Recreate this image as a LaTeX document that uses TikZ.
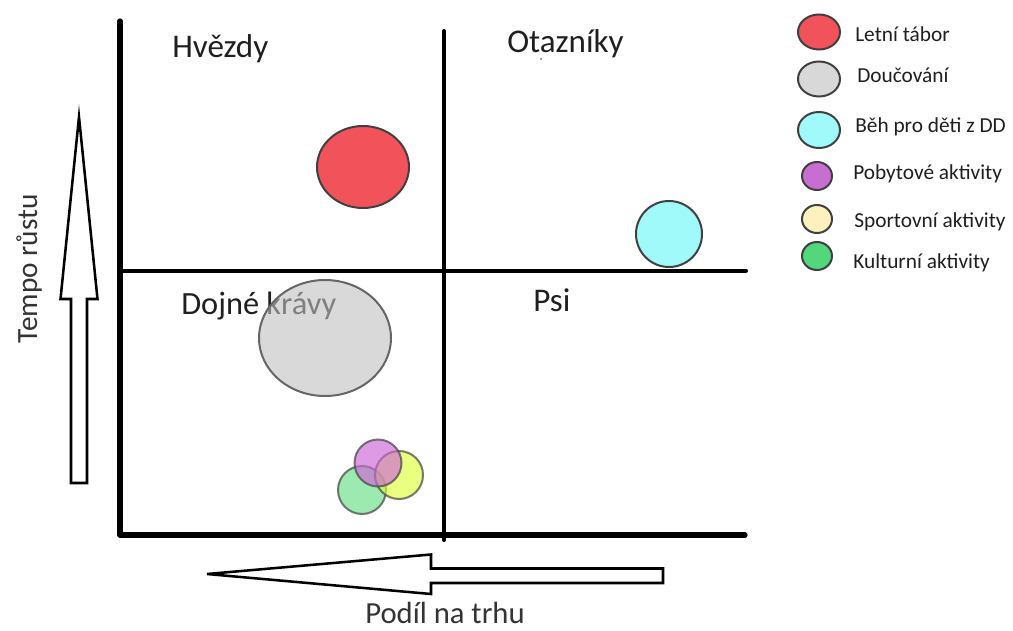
\documentclass[tikz,border=0pt]{standalone}
\usepackage{fontspec}
\setmainfont{Carlito}
\definecolor{bubblered}{RGB}{242,82,90}
\definecolor{bubblecyan}{RGB}{160,250,250}
\definecolor{bubblegray}{RGB}{216,216,216}
\definecolor{legpurple}{RGB}{200,110,210}
\definecolor{legyellow}{RGB}{255,241,190}
\definecolor{leggreen}{RGB}{82,215,122}
\definecolor{mixpurple}{RGB}{205,100,215}
\definecolor{mixyellow}{RGB}{222,255,60}
\definecolor{mixgreen}{RGB}{105,222,135}
\begin{document}
\begin{tikzpicture}[x=0.75pt,y=-0.75pt,
  axis/.style={line width=3.9pt,line cap=round,line join=round},
  divider/.style={line width=3pt,line cap=round},
  bubble/.style={draw=black!75,line width=1.5pt},
  softbubble/.style={draw=black!70,line width=1.5pt,fill opacity=0.65,draw opacity=0.75},
  blockarrow/.style={draw=black,line width=1.9pt,fill=white,line join=miter},
  quad/.style={font=\fontsize{24.8}{29}\selectfont,text=black!88,inner sep=0pt,anchor=base west},
  legend/.style={font=\fontsize{16}{19}\selectfont,text=black!88,inner sep=0pt,anchor=base west},
  axislabel/.style={font=\fontsize{23}{27}\selectfont,text=black!80,inner sep=0pt,anchor=base}]
\useasboundingbox (0,0) rectangle (1013,631);

% quadrant names
\node[quad] (stars)    at (172,58)  {Hvězdy};
\node[quad] (question) at (507,53)  {Otazníky};
\node[quad,font=\fontsize{24.3}{29}\selectfont] (cows) at (181,314) {Dojné krávy};
\node[quad] (dogs)     at (533,311) {Psi};
\fill[black!60] (541,59) circle [radius=1];

% axes and quadrant dividers
\draw[axis] (120,21) -- (120,535) -- (745,535);
\draw[divider] (444,31) -- (444,540);
\draw[divider] (120,270.5) -- (746,270.5);

% activity bubbles
\draw[bubble,fill=bubblered] (363,167) ellipse [x radius=46, y radius=41];
\draw[bubble,draw=black!60,fill=black!25,fill opacity=0.6] (325,338) ellipse [x radius=66, y radius=58];
\draw[bubble,fill=bubblecyan] (669,234) circle [radius=33];
\draw[softbubble,fill=mixgreen]  (362,490) circle [radius=24];
\draw[softbubble,fill=mixyellow] (399,475) circle [radius=24];
\draw[softbubble,fill=mixpurple] (378,463) circle [radius=23.5];

% growth rate arrow
\draw[blockarrow] (79,117) -- (97.5,299) -- (87,299) -- (87,483) -- (71,483)
  -- (71,299) -- (60.5,299) -- cycle;
\node[axislabel,font=\fontsize{22}{26}\selectfont,rotate=90] (growth) at (37,269) {Tempo růstu};

% market share arrow
\draw[blockarrow] (207,574) -- (431,554.5) -- (431,568.5) -- (663,568.5)
  -- (663,583) -- (431,583) -- (431,594) -- cycle;
\node[axislabel] (share) at (445,623) {Podíl na trhu};

% legend
\draw[bubble,fill=bubblered]  (819,32)  ellipse [x radius=21, y radius=17.5];
\draw[bubble,fill=bubblegray] (819,79)  ellipse [x radius=21, y radius=17.5];
\draw[bubble,fill=bubblecyan] (819,130) ellipse [x radius=21, y radius=18];
\draw[bubble,fill=legpurple]  (817,176) ellipse [x radius=15, y radius=14];
\draw[bubble,fill=legyellow]  (817,219) ellipse [x radius=15, y radius=14];
\draw[bubble,fill=leggreen]   (817,256) ellipse [x radius=15, y radius=14];
\node[legend] (l1) at (855,42)  {Letní tábor};
\node[legend] (l2) at (857,83)  {Doučování};
\node[legend] (l3) at (855,133) {Běh pro děti z DD};
\node[legend] (l4) at (853,180) {Pobytové aktivity};
\node[legend] (l5) at (854,227) {Sportovní aktivity};
\node[legend] (l6) at (853,268) {Kulturní aktivity};
\end{tikzpicture}
\end{document}
